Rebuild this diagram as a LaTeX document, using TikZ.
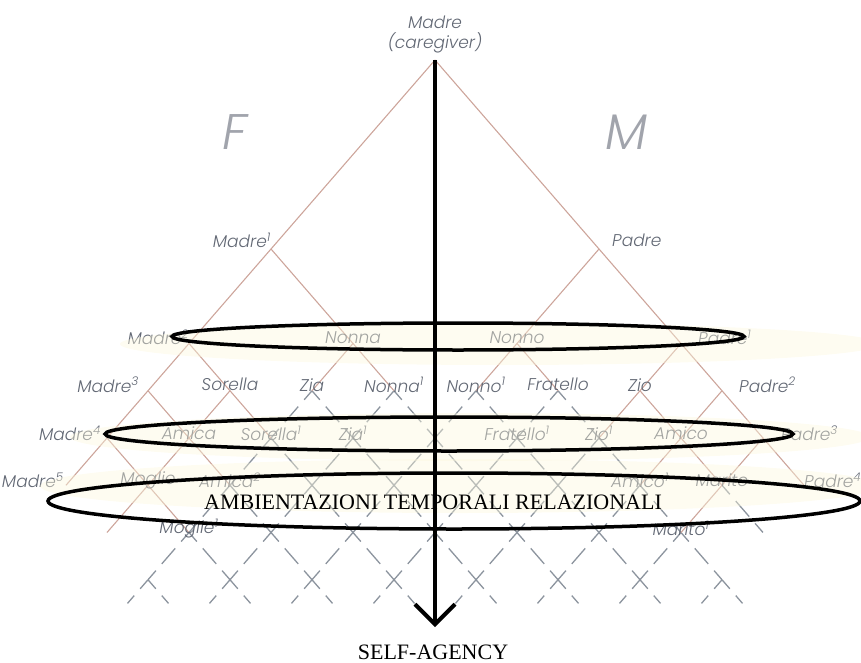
\documentclass[tikz,border=0pt]{standalone}
\usepackage{fontspec}
\setmainfont{Liberation Serif}
\newfontfamily\kinfont{Poppins Light}[ItalicFont={Poppins Light Italic}]
\usetikzlibrary{calc, arrows.meta}
\definecolor{kinline}{RGB}{205,165,155}
\definecolor{gridline}{RGB}{140,148,158}
\definecolor{kintext}{RGB}{98,104,116}
\definecolor{band}{RGB}{252,247,222}

\begin{document}
\begin{tikzpicture}[x=1pt, y=-1pt,
    kin/.style={draw=kinline, line width=1.1pt},
    grid/.style={draw=gridline, line width=1.3pt, dash pattern=on 12pt off 9pt on 20.5pt off 9pt on 12pt off 9pt},
    lbl/.style={text=kintext, font=\kinfont\itshape\fontsize{17}{20}\selectfont, inner sep=0pt},
    big/.style={text=kintext!60, font=\kinfont\itshape\fontsize{50}{50}\selectfont, inner sep=0pt},
    ring/.style={draw=black, line width=3.5pt},
    glow/.style={fill=band, fill opacity=0.42, draw=none},
    caps/.style={font=\fontsize{22}{24}\selectfont, inner sep=0pt}]
    \useasboundingbox (0,0) rectangle (861,663);

    % lattice points: p = steps down-right, q = steps down-left
    \foreach \p in {0,...,10}{
        \foreach \q in {0,...,10}{
            \coordinate (k-\p-\q) at ({435+41*(\p-\q)}, {60+47.25*(\p+\q)});
        }
    }

    % dashed grid below the tree
    \foreach \p in {2,...,8}{
        \foreach \q in {2,...,8}{
            \pgfmathtruncatemacro\lev{\p+\q}
            \pgfmathtruncatemacro\pn{\p+1}
            \pgfmathtruncatemacro\qn{\q+1}
            \ifnum\lev>6 \ifnum\lev<11
                \draw[grid] (k-\p-\q) -- (k-\pn-\q);
                \draw[grid] (k-\p-\q) -- (k-\p-\qn);
            \fi\fi
        }
    }
    \draw[grid] (k-8-1) -- (k-9-1);
    \foreach \p in {2,...,9}{
        \pgfmathtruncatemacro\q{11-\p}
        \pgfmathtruncatemacro\pn{\p+1}
        \pgfmathtruncatemacro\qn{\q+1}
        \draw[grid] (k-\p-\q) -- ($(k-\p-\q)!.5!(k-\p-\qn)$);
        \draw[grid] (k-\p-\q) -- ($(k-\p-\q)!.5!(k-\pn-\q)$);
    }

    % kinship tree
    \draw[kin] (k-0-0) -- (k-0-9);
    \draw[kin] (k-0-0) -- (k-9-0);
    \draw[kin] (k-0-4) -- (k-2-4) -- (k-2-5);
    \draw[kin] (k-2-4) -- (k-3-4);
    \draw[kin] (k-4-0) -- (k-4-2) -- (k-4-3);
    \draw[kin] (k-4-2) -- (k-5-2);
    \draw[kin] (k-0-6) -- (k-2-6);
    \draw[kin] (k-0-7) -- (k-2-7);
    \draw[kin] (k-0-8) -- (k-2-8);
    \draw[kin] (k-1-6) -- (k-1-9);
    \draw[kin] (k-6-0) -- (k-6-2);
    \draw[kin] (k-7-0) -- (k-7-2);
    \draw[kin] (k-8-0) -- (k-8-2);
    \draw[kin] (k-6-1) -- (k-8-1);

    % labels
    \node[lbl, align=center, anchor=south] (caregiver) at ([yshift=7pt]k-0-0) {Madre\\(caregiver)};
    \node[big] (fem) at (235,132) {F};
    \node[big] (mas) at (627,132) {M};

    \node[lbl, anchor=east] (madre1) at ([yshift=9pt]k-0-4) {Madre\textsuperscript{1}};
    \node[lbl, anchor=west] (padre) at ([xshift=13pt, yshift=9pt]k-4-0) {Padre};

    \node[lbl, anchor=east] (madre2) at ([yshift=6pt]k-0-6) {Madre\textsuperscript{2}};
    \node[lbl] (nonna) at ([yshift=6pt]k-2-4) {Nonna};
    \node[lbl] (nonno) at ([yshift=6pt]k-4-2) {Nonno};
    \node[lbl, anchor=west] (padre1) at ([xshift=17pt, yshift=6pt]k-6-0) {Padre\textsuperscript{1}};

    \node[lbl, anchor=east] (madre3) at ([xshift=-9pt, yshift=6pt]k-0-7) {Madre\textsuperscript{3}};
    \node[lbl] (sorella) at ([yshift=6pt]k-1-6) {Sorella};
    \node[lbl] (zia) at ([yshift=6pt]k-2-5) {Zia};
    \node[lbl] (nonna1) at ([yshift=6pt]k-3-4) {Nonna\textsuperscript{1}};
    \node[lbl] (nonno1) at ([yshift=6pt]k-4-3) {Nonno\textsuperscript{1}};
    \node[lbl] (fratello) at ([yshift=6pt]k-5-2) {Fratello};
    \node[lbl] (zio) at ([yshift=6pt]k-6-1) {Zio};
    \node[lbl, anchor=west] (padre2) at ([xshift=17pt, yshift=6pt]k-7-0) {Padre\textsuperscript{2}};

    \node[lbl, anchor=east] (madre4) at ([xshift=-6pt, yshift=5pt]k-0-8) {Madre\textsuperscript{4}};
    \node[lbl] (amica) at ([yshift=5pt]k-1-7) {Amica};
    \node[lbl] (sorella1) at ([yshift=5pt]k-2-6) {Sorella\textsuperscript{1}};
    \node[lbl] (zia1) at ([yshift=5pt]k-3-5) {Zia\textsuperscript{1}};
    \node[lbl] (fratello1) at ([yshift=5pt]k-5-3) {Fratello\textsuperscript{1}};
    \node[lbl] (zio1) at ([yshift=5pt]k-6-2) {Zio\textsuperscript{1}};
    \node[lbl] (amico) at ([yshift=5pt]k-7-1) {Amico};
    \node[lbl, anchor=west] (padre3) at ([xshift=18pt, yshift=5pt]k-8-0) {Padre\textsuperscript{3}};

    \node[lbl, anchor=east] (madre5) at ([xshift=-2pt, yshift=5pt]k-0-9) {Madre\textsuperscript{5}};
    \node[lbl] (moglie) at ([yshift=5pt]k-1-8) {Moglie};
    \node[lbl] (amica2) at ([yshift=5pt]k-2-7) {Amica\textsuperscript{2}};
    \node[lbl] (amico1) at ([yshift=5pt]k-7-2) {Amico\textsuperscript{1}};
    \node[lbl] (marito) at ([yshift=5pt]k-8-1) {Marito};
    \node[lbl, anchor=west] (padre4) at ([xshift=0pt, yshift=5pt]k-9-0) {Padre\textsuperscript{4}};

    \node[lbl] (moglie1) at ([yshift=4pt]k-2-8) {Moglie\textsuperscript{1}};
    \node[lbl] (marito1) at ([yshift=4pt]k-8-2) {Marito\textsuperscript{1}};

    % highlighted bands and rings
    \fill[glow] (500,344) ellipse [x radius=380, y radius=21];
    \fill[glow] (470,437) ellipse [x radius=400, y radius=24];
    \fill[glow] (460,486) ellipse [x radius=420, y radius=27];
    \draw[ring] (458,336.5) ellipse [x radius=286, y radius=13.5];
    \draw[ring] (449,434) ellipse [x radius=344, y radius=17];
    \draw[ring] (454,501) ellipse [x radius=406, y radius=28];

    \coordinate (tip) at (435,627);
    \draw[line width=4.5pt, -{Straight Barb[length=20pt, width=40pt, line width=4pt]}] (k-0-0) -- (tip);

    \node[caps] (ambient) at (433,502) {AMBIENTAZIONI TEMPORALI RELAZIONALI};
    \node[caps] (self) at (433,652) {SELF-AGENCY};
\end{tikzpicture}
\end{document}
